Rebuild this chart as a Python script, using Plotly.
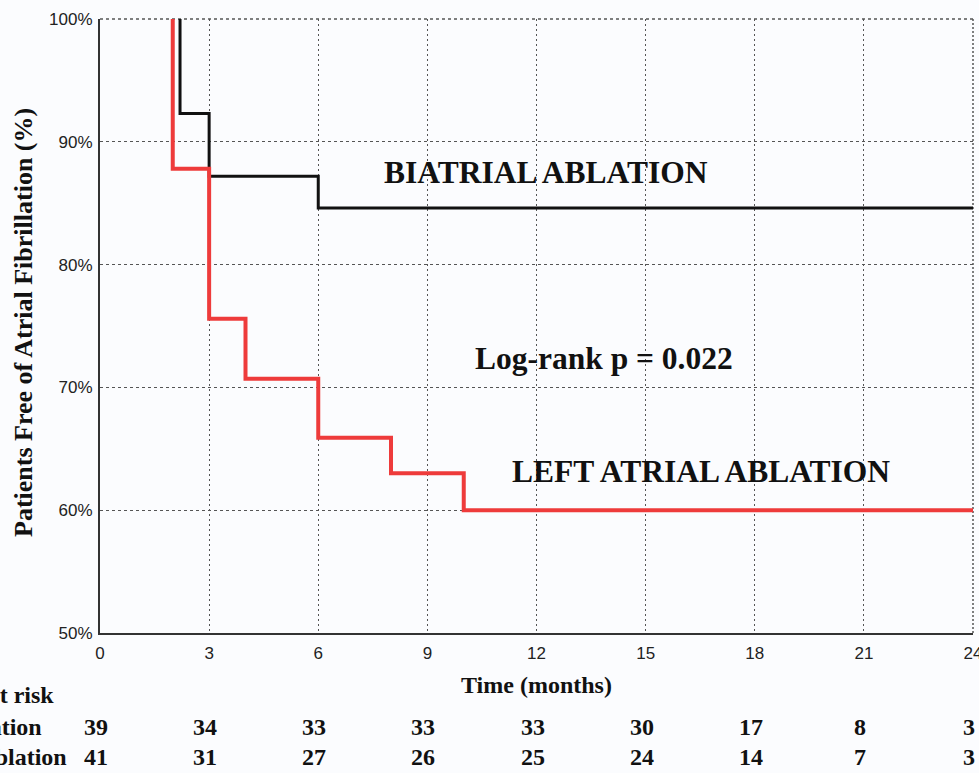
import plotly.graph_objects as go

# ---- data ----
months_ticks = [0, 3, 6, 9, 12, 15, 18, 21, 24]
y_ticks = [50, 60, 70, 80, 90, 100]

biatrial_event_months = [2.2, 3, 6]
biatrial_survival = [92.3, 87.2, 84.6]

left_event_months = [2.0, 3, 4, 6, 8, 10]
left_survival = [87.8, 75.6, 70.7, 65.9, 63.0, 60.0]

follow_up_end = 24

at_risk_biatrial = [39, 34, 33, 33, 33, 30, 17, 8, 3]
at_risk_left = [41, 31, 27, 26, 25, 24, 14, 7, 3]

# ---- layout constants ----
W, H = 979, 773
ML, MR, MT, MB = 100, 6, 19, 140
PW = W - ML - MR
PH = H - MT - MB


def px_x(px):
    return (px - ML) / PW


def px_y(py):
    return (H - MB - py) / PH


SERIF = "Liberation Serif, Times New Roman, serif"
SANS = "Liberation Sans, Arial, sans-serif"
BG = "#fbfcfe"
GRID = "#555555"

fig = go.Figure()

fig.add_trace(go.Scatter(
    x=biatrial_event_months + [follow_up_end],
    y=[100] + biatrial_survival,
    mode="lines", line=dict(color="#111111", width=3, shape="vh"),
    name="Biatrial Ablation", showlegend=False,
))
fig.add_trace(go.Scatter(
    x=left_event_months + [follow_up_end],
    y=[100] + left_survival,
    mode="lines", line=dict(color="#ee3b3b", width=4, shape="vh"),
    name="Left Atrial Ablation", showlegend=False,
))

# dashed frame on the top and right sides (grid lines at the range ends)
fig.add_shape(type="line", xref="paper", yref="paper", x0=1, x1=1, y0=0, y1=1,
              line=dict(color=GRID, width=1.5, dash="2px,2px"), layer="below")
fig.add_shape(type="line", xref="paper", yref="paper", x0=0, x1=1, y0=1, y1=1,
              line=dict(color=GRID, width=1.5, dash="3px,3px"), layer="below")

annotations = [
    dict(text="<b>BIATRIAL ABLATION</b>", x=px_x(546), y=px_y(172)),
    dict(text="<b>Log-rank p = 0.022</b>", x=px_x(604), y=px_y(358)),
    dict(text="<b>LEFT ATRIAL ABLATION</b>", x=px_x(701), y=px_y(471)),
]
for a in annotations:
    fig.add_annotation(xref="paper", yref="paper", showarrow=False,
                       font=dict(family=SERIF, size=31.5, color="#111111"),
                       xanchor="center", yanchor="middle", **{k: a[k] for k in ("text", "x", "y")})

# y axis title (rotated)
fig.add_annotation(text="<b>Patients Free of Atrial Fibrillation (%)</b>",
                   xref="paper", yref="paper", x=px_x(23), y=px_y(323),
                   textangle=-90, showarrow=False, xanchor="center", yanchor="middle",
                   font=dict(family=SERIF, size=26, color="#111111"))

# at-risk table
table_font = dict(family=SERIF, size=24, color="#111111")
fig.add_annotation(text="<b>Patients at risk</b>", xref="paper", yref="paper",
                   x=px_x(56), y=px_y(695), xanchor="right", yanchor="middle",
                   showarrow=False, font=table_font)
fig.add_annotation(text="<b>Biatrial Ablation</b>", xref="paper", yref="paper",
                   x=px_x(44), y=px_y(727), xanchor="right", yanchor="middle",
                   showarrow=False, font=table_font)
fig.add_annotation(text="<b>Left Atrial Ablation</b>", xref="paper", yref="paper",
                   x=px_x(69), y=px_y(757), xanchor="right", yanchor="middle",
                   showarrow=False, font=table_font)
for m, n1, n2 in zip(months_ticks, at_risk_biatrial, at_risk_left):
    fig.add_annotation(text=f"<b>{n1}</b>", xref="x", yref="paper", x=m, y=px_y(727),
                       xshift=-4, showarrow=False, xanchor="center", yanchor="middle",
                       font=table_font)
    fig.add_annotation(text=f"<b>{n2}</b>", xref="x", yref="paper", x=m, y=px_y(757),
                       xshift=-4, showarrow=False, xanchor="center", yanchor="middle",
                       font=table_font)

fig.update_layout(
    width=W, height=H,
    margin=dict(l=ML, r=MR, t=MT, b=MB, autoexpand=False),
    paper_bgcolor=BG, plot_bgcolor=BG,
    xaxis=dict(
        range=[0, 24], tickvals=months_ticks, ticktext=[str(v) for v in months_ticks],
        showgrid=True, gridcolor=GRID, gridwidth=1, griddash="2px,3px",
        showline=True, linecolor="#333333", linewidth=2,
        zeroline=False, ticks="", ticklabelstandoff=4, ticklabeloverflow="allow",
        tickfont=dict(family=SANS, size=17, color="#222222"),
        title=dict(text="<b>Time (months)</b>", standoff=14,
                   font=dict(family=SERIF, size=24, color="#111111")),
        fixedrange=True,
    ),
    yaxis=dict(
        range=[50, 100], tickvals=y_ticks, ticktext=[f"{v}%" for v in y_ticks],
        showgrid=True, gridcolor=GRID, gridwidth=1, griddash="3px,3px",
        showline=True, linecolor="#333333", linewidth=2,
        zeroline=False, ticks="", ticklabelstandoff=2, ticklabeloverflow="allow",
        tickfont=dict(family=SANS, size=17, color="#222222"),
        fixedrange=True,
    ),
)

fig.write_html(
    "out.html",
    config={"displayModeBar": False},
    post_script="document.body.style.margin='0';document.body.style.padding='0';"
                "document.body.style.overflow='hidden';",
)
